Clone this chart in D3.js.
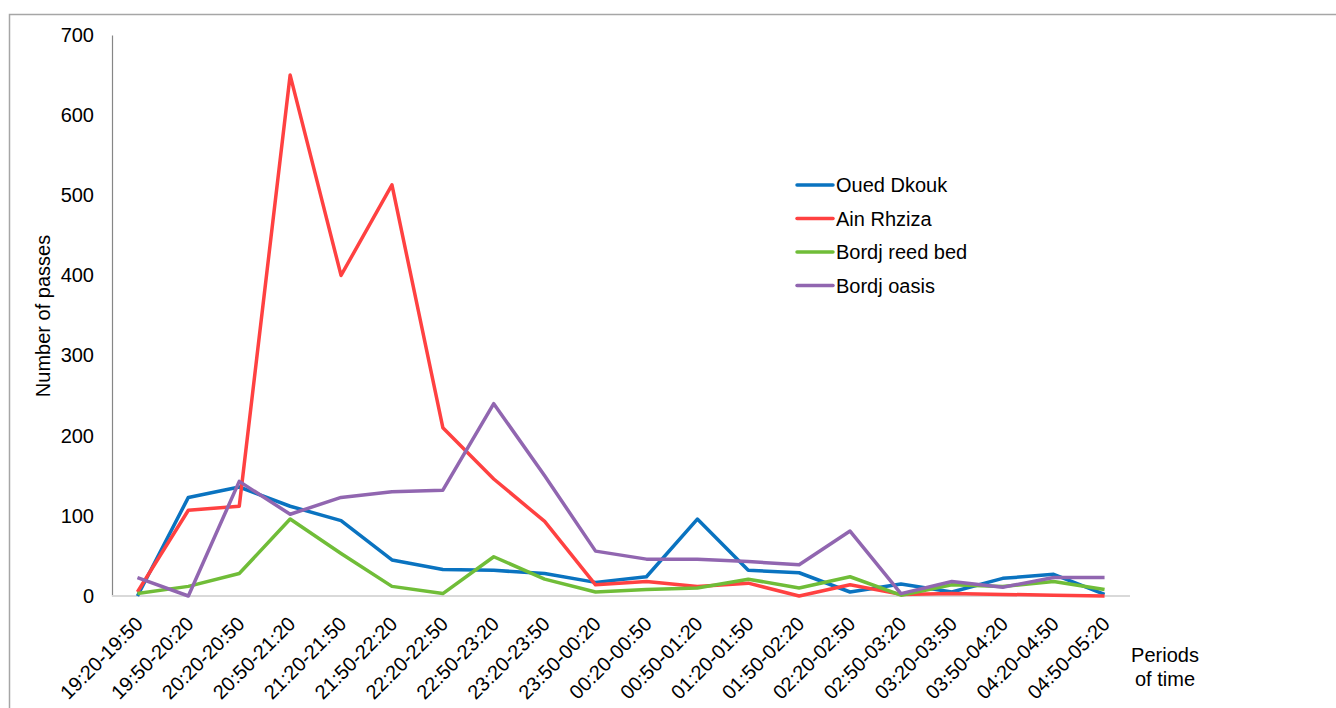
<!DOCTYPE html>
<html>
<head>
<meta charset="utf-8">
<script src="https://cdn.jsdelivr.net/npm/d3@7"></script>
<style>
  body { margin: 0; background: #fff; }
  svg { display: block; font-family: "Liberation Sans", Arial, sans-serif; }
</style>
</head>
<body>
<svg id="chart" width="1336" height="708"></svg>
<script>
/* Bat passes per period of time, four sites */

const periods = [
  "19:20-19:50", "19:50-20:20", "20:20-20:50", "20:50-21:20", "21:20-21:50",
  "21:50-22:20", "22:20-22:50", "22:50-23:20", "23:20-23:50", "23:50-00:20",
  "00:20-00:50", "00:50-01:20", "01:20-01:50", "01:50-02:20", "02:20-02:50",
  "02:50-03:20", "03:20-03:50", "03:50-04:20", "04:20-04:50", "04:50-05:20",
];

const ouedDkouk = [0, 123, 136, 112, 94, 45, 33, 32, 28, 17, 24, 96, 32, 29, 5, 15, 5, 22, 27, 2];
const ainRhziza = [5, 107, 112, 650, 400, 513, 210, 146, 93, 14, 18, 12, 16, 0, 14, 2, 3, 2, 1, 0];
const bordjReedBed = [3, 12, 28, 96, 53, 12, 3, 49, 21, 5, 8, 10, 21, 10, 24, 1, 14, 12, 18, 8];
const bordjOasis = [23, 0, 143, 102, 123, 130, 132, 240, 150, 56, 46, 46, 43, 39, 81, 3, 18, 11, 23, 23];

const seriesNames = ["Oued Dkouk", "Ain Rhziza", "Bordj reed bed", "Bordj oasis"];
const seriesColors = ["#0a73c0", "#ff4141", "#70bd38", "#9166b0"];
const yTicks = [0, 100, 200, 300, 400, 500, 600, 700];

const series = [ouedDkouk, ainRhziza, bordjReedBed, bordjOasis];

function render() {
  const svg = d3.select("#chart");

  // outer frame (cut at right and bottom)
  svg.append("path")
    .attr("d", "M9.5,708 V14.5 H1336")
    .attr("fill", "none")
    .attr("stroke", "#a6a6a6")
    .attr("stroke-width", 1.5);

  const plot = { left: 112, right: 1130, top: 35, bottom: 596 };

  const x = d3.scalePoint()
    .domain(periods)
    .range([plot.left, plot.right])
    .padding(0.5);

  const y = d3.scaleLinear()
    .domain([0, 700])
    .range([plot.bottom, plot.top]);

  // y axis
  const yAxis = svg.append("g")
    .attr("transform", `translate(${plot.left},0)`)
    .call(d3.axisLeft(y).tickValues(yTicks).tickSize(0).tickPadding(18));
  yAxis.select(".domain").attr("stroke", "#868686").attr("stroke-width", 1.2);
  yAxis.selectAll("text")
    .attr("font-size", 20)
    .attr("fill", "#000")
    .attr("font-family", "Liberation Sans, Arial, sans-serif");

  // x axis
  const xAxis = svg.append("g")
    .attr("transform", `translate(0,${plot.bottom})`)
    .call(d3.axisBottom(x).tickSize(0).tickSizeOuter(0));
  xAxis.select(".domain")
    .attr("d", `M${plot.left},0H${plot.right}`)
    .attr("stroke", "#d9d9d9")
    .attr("stroke-width", 2);
  xAxis.selectAll("text")
    .attr("font-size", 20)
    .attr("fill", "#000")
    .attr("font-family", "Liberation Sans, Arial, sans-serif")
    .attr("text-anchor", "end")
    .attr("dy", "0.35em")
    .attr("transform", "translate(-1,22) rotate(-45)");

  // lines
  const line = d3.line()
    .x((d, i) => x(periods[i]))
    .y((d) => y(d));

  series.forEach((values, k) => {
    svg.append("path")
      .datum(values)
      .attr("fill", "none")
      .attr("stroke", seriesColors[k])
      .attr("stroke-width", 3.5)
      .attr("stroke-linejoin", "round")
      .attr("d", line);
  });

  // axis titles
  svg.append("text")
    .attr("transform", "translate(50,316) rotate(-90)")
    .attr("text-anchor", "middle")
    .attr("font-size", 20)
    .text("Number of passes");

  const xt = svg.append("text")
    .attr("x", 1165)
    .attr("y", 662)
    .attr("text-anchor", "middle")
    .attr("font-size", 20);
  xt.append("tspan").attr("x", 1165).text("Periods");
  xt.append("tspan").attr("x", 1165).attr("dy", 24).text("of time");

  // legend
  const legend = svg.append("g").attr("transform", "translate(797,185)");
  seriesNames.forEach((name, k) => {
    const row = legend.append("g").attr("transform", `translate(0,${k * 33.5})`);
    row.append("line")
      .attr("x1", 0).attr("x2", 36)
      .attr("stroke", seriesColors[k])
      .attr("stroke-width", 3.5)
      .attr("stroke-linecap", "round");
    row.append("text")
      .attr("x", 39)
      .attr("dy", "0.35em")
      .attr("font-size", 20)
      .text(name);
  });
}

render();
</script>
</body>
</html>
